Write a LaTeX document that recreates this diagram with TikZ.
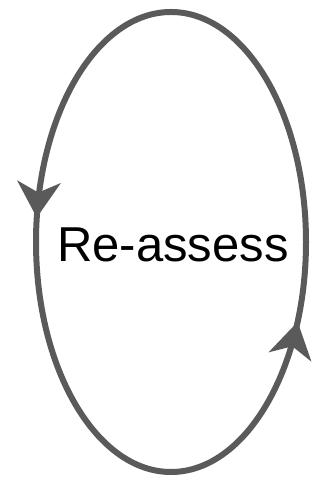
\documentclass[tikz,border=0pt]{standalone}
\usepackage{fontspec}
\setmainfont{Liberation Sans}
\usetikzlibrary{arrows.meta,decorations.markings}
\definecolor{loopgray}{HTML}{5A5A5A}
\tikzset{
  looptip/.tip={Stealth[length=36pt,width=44pt,inset=11pt,line width=0pt]},
  cycleloop/.style={draw=loopgray, line width=6pt,
    postaction={decorate, decoration={markings,
      mark=at position 0.479 with {\arrow[loopgray]{looptip}},
      mark=at position 0.931 with {\arrow[loopgray]{looptip}}}}},
  looplabel/.style={font=\fontsize{49}{54}\selectfont, text=black, inner sep=0pt, anchor=base}
}
\begin{document}
\begin{tikzpicture}[x=1pt,y=1pt]
  \useasboundingbox (0,0) rectangle (335,478);
  \path[cycleloop] (171,236) ellipse [x radius=135, y radius=230];
  \node[looplabel] (label) at (173,216) {Re-assess};
\end{tikzpicture}
\end{document}
